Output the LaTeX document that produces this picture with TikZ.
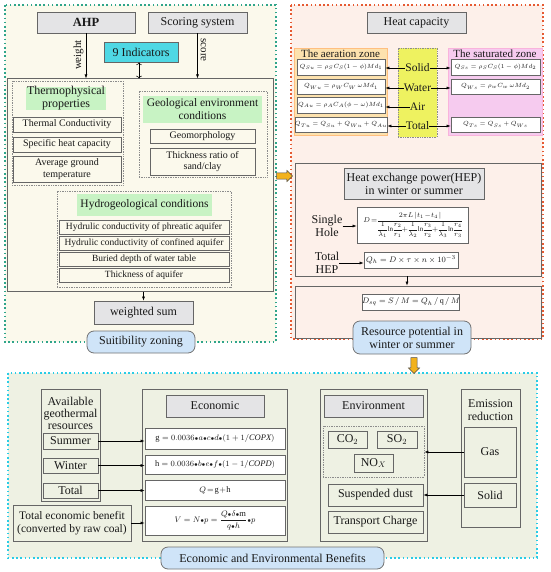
\documentclass[tikz,border=0pt]{standalone}
\usepackage{fontspec}
\setmainfont{Liberation Serif}
\usepackage{amsmath}
\usepackage{xcolor}
\usetikzlibrary{arrows.meta, shapes.arrows}
\usetikzlibrary{positioning}

\definecolor{leftbg}{HTML}{FBF9EC}
\definecolor{rightbg}{HTML}{FDF0EA}
\definecolor{bottombg}{HTML}{EEF1E3}
\definecolor{leftline}{HTML}{2FA58A}
\definecolor{rightline}{HTML}{E65A32}
\definecolor{bottomline}{HTML}{29CCE6}
\definecolor{boxgray}{HTML}{E4E4E6}
\definecolor{tagreen}{HTML}{C8F3C4}
\definecolor{indcyan}{HTML}{4FD8E4}
\definecolor{zoneorange}{HTML}{FDE2AE}
\definecolor{zonepink}{HTML}{F6CBEF}
\definecolor{midyellow}{HTML}{EEF260}
\definecolor{pillblue}{HTML}{CFE4F8}
\definecolor{arroworange}{HTML}{F2B21C}

\newcommand{\bdot}{{\scriptstyle\bullet}}

\begin{document}
\begin{tikzpicture}[x=1pt, y=-1pt,
	every node/.style={font=\fontsize{12}{13}\selectfont, align=center, inner sep=0pt, text=black!90},
	sz/.style 2 args={minimum width=#1, minimum height=#2},
	box/.style={draw=black!60, line width=0.8pt},
	head/.style={box, fill=boxgray},
	item/.style={box, font=\fontsize{10}{11.5}\selectfont},
	eq/.style={box, fill=white, font=\fontsize{6}{7}\selectfont},
	grp/.style={draw=black!45, densely dotted, line width=0.7pt},
	tag/.style={fill=tagreen},
	pill/.style={draw=black!55, line width=0.8pt, fill=pillblue, rounded corners=7pt},
	arr/.style={-{Latex[length=4pt, width=3pt]}, line width=0.6pt},
	panel/.style={line width=1.3pt, dash pattern=on 1.6pt off 2.6pt},
	bigarrow/.style={single arrow, draw=black!70, fill=arroworange, single arrow head extend=2.5pt, inner sep=2.8pt, minimum height=16pt, line width=0.5pt}]
				\useasboundingbox (0,0) rectangle (550,572);

				\draw[panel, draw=leftline, fill=leftbg] (5,5) rectangle (276,342);
				\draw[panel, draw=rightline, fill=rightbg] (291,5) rectangle (543,339);
				\draw[panel, draw=bottomline, fill=bottombg] (8,373) rectangle (537,558);

				\node[head, sz={98}{21}, font=\fontsize{12.5}{14}\selectfont\bfseries] (ahp) at (86,22.5) {AHP};
				\node[head, sz={99}{21}] (score) at (197.5,22.5) {Scoring system};
				\node[box, fill=indcyan, sz={74}{20}] (ind) at (141,52) {9 Indicators};
				\node[box, line width=1pt, sz={266}{212}] (factors) at (140,185) {};
				\draw[arr] (ahp.south) -- (ahp.south |- factors.north);
				\draw[arr] (score.south) -- (score.south |- factors.north);
				\draw[<->, line width=0.5pt] ([xshift=-2pt]ind.south) -- ([xshift=-2pt]ind.south |- factors.north);
				\node[rotate=90, font=\fontsize{11}{12}\selectfont] (wlab) at (78.5,55) {weight};
				\node[rotate=-90, font=\fontsize{11}{12}\selectfont] (slab) at (203.5,50) {score};

				\node[grp, sz={111}{104}] (thermo) at (67.5,133) {};
				\node[tag, sz={80}{23}] (thermot) at (66,98.5) {Thermophysical\\properties};
				\node[item, sz={108}{15}] (tc) at (67,124.5) {Thermal Conductivity};
				\node[item, sz={108}{15}] (shc) at (67,144.5) {Specific heat capacity};
				\node[item, sz={108}{26}] (agt) at (67,169) {Average ground\\temperature};

				\node[grp, sz={128}{86}] (geo) at (203,134) {};
				\node[tag, sz={119}{27}, font=\fontsize{11.5}{13}\selectfont] (geot) at (202.5,109.5) {Geological environment\\conditions};
				\node[item, sz={105}{14}] (geom) at (202.5,136) {Geomorphology};
				\node[item, sz={105}{27}] (thick) at (202.5,161.5) {Thickness ratio of\\sand/clay};

				\node[grp, sz={174}{96}] (hydro) at (144,239) {};
				\node[tag, sz={135}{22}, font=\fontsize{11.5}{13}\selectfont] (hydrot) at (144.5,205) {Hydrogeological conditions};
				\node[item, sz={170}{14}, font=\fontsize{9.5}{11}\selectfont] (hy1) at (144,227) {Hydrulic conductivity of phreatic aquifer};
				\node[item, sz={170}{14}, font=\fontsize{9.5}{11}\selectfont] (hy2) at (144,243) {Hydrulic conductivity of confined aquifer};
				\node[item, sz={170}{14}, font=\fontsize{9.5}{11}\selectfont] (hy3) at (144,259) {Buried depth of water table};
				\node[item, sz={170}{14}, font=\fontsize{9.5}{11}\selectfont] (hy4) at (144,275) {Thickness of aquifer};

				\node[head, sz={99}{23}] (wsum) at (143.5,312.5) {weighted sum};
				\draw[arr] (factors.south -| wsum.north) -- (wsum.north);
				\node[pill, sz={108}{22}] (suit) at (141,342) {Suitibility zoning};

				\node[head, sz={99}{21}] (heat) at (416.5,22.5) {Heat capacity};
				\node[box, draw=orange!50, fill=zoneorange, sz={93}{87}] (aer) at (340.5,91.5) {};
				\node[font=\fontsize{11}{12}\selectfont] (aert) at (340.5,53.5) {The aeration zone};
				\node[eq, sz={88}{16}] (a1) at (341,67) {$Q_{Su}=\rho_S C_S(1-\phi)Md_1$};
				\node[eq, sz={88}{15}] (a2) at (341,86.5) {$Q_{Wu}=\rho_W C_W\,\omega Md_1$};
				\node[eq, sz={88}{16}] (a3) at (341,105) {$Q_{Au}=\rho_A C_A(\phi-\omega)Md_1$};
				\node[eq, sz={88}{15}] (a4) at (341,124.5) {$Q_{Tu}=Q_{Su}+Q_{Wu}+Q_{Au}$};

				\node[grp, fill=midyellow, sz={39}{89}] (phase) at (417.5,92.5) {};
				\node[font=\fontsize{11.5}{13}\selectfont] (solid) at (417.5,68) {Solid};
				\node[font=\fontsize{11.5}{13}\selectfont] (water) at (417.5,88) {Water};
				\node[font=\fontsize{11.5}{13}\selectfont] (air) at (417.5,107) {Air};
				\node[font=\fontsize{11.5}{13}\selectfont] (total) at (417.5,126) {Total};

				\node[box, draw=magenta!30, fill=zonepink, sz={94}{87}] (sat) at (495,91.5) {};
				\node[font=\fontsize{11}{12}\selectfont] (satt) at (495,53.5) {The saturated zone};
				\node[eq, sz={89}{16}] (s1) at (495.5,67) {$Q_{Ss}=\rho_S C_S(1-\phi)Md_2$};
				\node[eq, sz={89}{15}] (s2) at (495.5,86.5) {$Q_{Ws}=\rho_w C_w\,\omega Md_2$};
				\node[eq, sz={89}{15}] (s4) at (495.5,124.5) {$Q_{Ts}=Q_{Ss}+Q_{Ws}$};

				\draw[arr] (solid.west) -- (solid.west -| a1.east);
				\draw[arr] (solid.east) -- (solid.east -| s1.west);
				\draw[arr] (water.west) -- (water.west -| a2.east);
				\draw[arr] (water.east) -- (water.east -| s2.west);
				\draw[arr] (air.west) -- (air.west -| a3.east);
				\draw[arr] (total.west) -- (total.west -| a4.east);
				\draw[arr] (total.east) -- (total.east -| s4.west);

				\node[box, sz={246}{113}] (hep) at (418,219.5) {};
				\node[head, sz={140}{31}] (hept) at (414,183.5) {Heat exchange power(HEP)\\in winter or summer};
				\node (single) at (327,226) {Single\\Hole};
				\node[eq, sz={111}{36}, font=\fontsize{7}{8}\selectfont] (deq) at (412.5,225) {$\medmuskip=1mu\thickmuskip=2.5mu\thinmuskip=1.5mu\nulldelimiterspace=0pt D=\dfrac{2\pi L\,|\,t_1-t_4\,|}{\dfrac{1}{\lambda_1}\ln\dfrac{r_2}{r_1}+\dfrac{1}{\lambda_2}\ln\dfrac{r_3}{r_2}+\dfrac{1}{\lambda_3}\ln\dfrac{r_4}{r_3}}$};
				\node (thep) at (327,263) {Total\\HEP};
				\node[eq, sz={94}{16}, font=\fontsize{8}{9}\selectfont] (qeq) at (411,260) {$Q_h=D\times\tau\times n\times10^{-3}$};
				\draw[arr] (single.east) -- (single.east -| deq.west);
				\draw[arr] (thep.east) -- (thep.east -| qeq.west);

				\node[box, sz={246}{52}] (res) at (418,312) {};
				\draw[arr] ([xshift=-11pt]hep.south) -- ([xshift=-11pt]res.north);
				\node[eq, sz={94}{16}, font=\fontsize{8}{9}\selectfont] (dsq) at (411,302) {$D_{sq}=S\,/\,M=Q_h\,/\,\mathrm{q}\,/\,M$};
				\node[pill, sz={118}{33}] (respot) at (412,337.5) {Resource potential in\\winter or summer};

				\node[bigarrow] (toheat) at (283,176) {};
				\node[bigarrow, shape border rotate=270] (toben) at (414,364) {};

				\node[box, sz={59}{112}] (avail) at (70.5,445) {};
				\node[font=\fontsize{12}{12}\selectfont] (availt) at (70.5,413) {Available\\geothermal\\resources};
				\node[box, sz={55}{16}] (summer) at (70.5,441) {Summer};
				\node[box, sz={55}{15}] (winter) at (70.5,465.5) {Winter};
				\node[box, sz={55}{15}] (tot) at (70.5,490.5) {Total};
				\node[box, sz={118}{36}, font=\fontsize{11.5}{13}\selectfont] (teb) at (72,523) {Total economic benefit\\(converted by raw coal)};

				\node[box, sz={145}{152}] (econ) at (214.5,465) {};
				\node[head, sz={98}{22}] (econt) at (215,406) {Economic};
				\node[eq, sz={140}{21}, font=\fontsize{8.5}{9}\selectfont] (geq) at (215,438.5) {$\mathrm{g}=0.0036\bdot a\bdot c\bdot d\bdot(1+1/\mathit{COPX})$};
				\node[eq, sz={140}{19}, font=\fontsize{8.5}{9}\selectfont] (heq) at (215,464.5) {$\mathrm{h}=0.0036\bdot b\bdot e\bdot f\bdot(1-1/\mathit{COPD})$};
				\node[eq, sz={140}{20}, font=\fontsize{8.5}{9}\selectfont] (qsum) at (215,490) {$Q\!=\!\mathrm{g}\!+\!\mathrm{h}$};
				\node[eq, sz={140}{29}, font=\fontsize{8.5}{9}\selectfont] (veq) at (215,520.5) {$V=N\bdot p=\dfrac{Q\bdot\delta\bdot\mathrm{m}}{q\bdot h}\bdot p$};
				\draw[arr] (summer.east) -- (summer.east -| geq.west);
				\draw[arr] (winter.east) -- (winter.east -| heq.west);
				\draw[arr] (tot.east) -- (tot.east -| qsum.west);
				\draw[arr] (teb.east) -- (teb.east -| veq.west);

				\node[box, sz={107}{152}] (env) at (373.5,465) {};
				\node[head, sz={99}{22}] (envt) at (373.5,406) {Environment};
				\node[grp, sz={101}{51}] (gases) at (373.5,451.5) {};
				\node[box, sz={39}{17}] (co2) at (347.5,439.5) {CO$_2$};
				\node[box, sz={40}{17}] (so2) at (397,439.5) {SO$_2$};
				\node[box, sz={39}{18}] (nox) at (373.5,463) {NO$_X$};
				\node[box, sz={95}{22}] (dust) at (375.5,495) {Suspended dust};
				\node[box, sz={95}{22}] (trans) at (375.5,522) {Transport Charge};

				\node[box, sz={59}{138}] (emis) at (490.5,458) {};
				\node (emist) at (490.5,410) {Emission\\reduction};
				\node[box, sz={52}{50}] (gas) at (490,452) {Gas};
				\node[box, sz={52}{24}] (solidb) at (490,495) {Solid};
				\draw[arr] (gas.west) -- (gas.west -| gases.east);
				\draw[arr] (solidb.west) -- (solidb.west -| dust.east);

				\node[pill, sz={223}{22}] (ben) at (272.5,558) {Economic and Environmental Benefits};
			\end{tikzpicture}
\end{document}
